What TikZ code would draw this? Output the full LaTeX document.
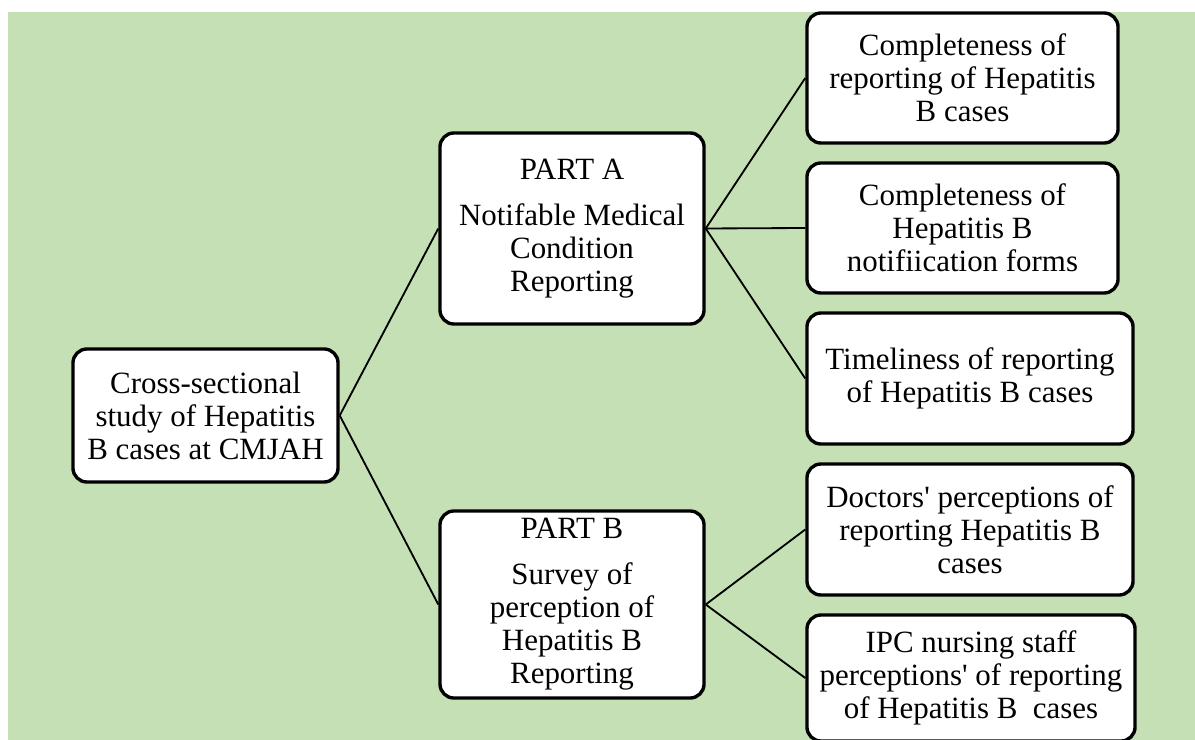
\documentclass[tikz,border=0pt]{standalone}
\usepackage{fontspec}
\setmainfont{Liberation Serif}[Ligatures=TeXOff]
\usepackage{tikz}
\definecolor{bggreen}{RGB}{197,224,180}

\begin{document}
\begin{tikzpicture}[x=0.025cm, y=-0.025cm]

\tikzstyle{box1}=[rectangle, draw, fill=white, line width=2.4pt, rounded corners=0.35cm, align=center, inner sep=2pt, font=\fontsize{22}{23.5}\selectfont]
\tikzstyle{line}=[line width=1.3pt]

\useasboundingbox (0,0) rectangle (1195,740);
\fill[bggreen] (8,12) rectangle (1195,740);

\node (study) [box1, minimum width=6.625cm, minimum height=3.325cm] at (205.5,415.5)
      {Cross-sectional\\ study of Hepatitis\\ B cases at CMJAH};

\node (partA) [box1, minimum width=6.6cm, minimum height=4.775cm] at (572,228.5)
      {PART A\\[9pt] Notifable Medical\\ Condition\\ Reporting};
\node (partB) [box1, minimum width=6.6cm, minimum height=4.675cm] at (572,604.5)
      {PART B\\[9pt] Survey of\\ perception of\\ Hepatitis B\\ Reporting};

\node (compRep) [box1, minimum width=7.775cm, minimum height=3.25cm] at (962.5,78)
      {Completeness of\\ reporting of Hepatitis\\ B cases};
\node (compForm) [box1, minimum width=7.775cm, minimum height=3.25cm] at (962.5,228)
      {Completeness of\\ Hepatitis B\\ notifiication forms};
\node (timely) [box1, minimum width=8.15cm, minimum height=3.275cm] at (970,378.5)
      {Timeliness of reporting\\ of Hepatitis B cases};
\node (doctors) [box1, minimum width=8.15cm, minimum height=3.275cm] at (970,529.5)
      {Doctors' perceptions of\\ reporting Hepatitis B\\ cases};
\node (nurses) [box1, minimum width=8.2cm, minimum height=3.15cm] at (971,678)
      {IPC nursing staff\\ perceptions' of reporting\\ of Hepatitis B\ \ cases};

\draw[line] (study.east) -- (partA.west);
\draw[line] (study.east) -- (partB.west);
\draw[line] (partA.east) -- (compRep.west);
\draw[line] (partA.east) -- (compForm.west);
\draw[line] (partA.east) -- (timely.west);
\draw[line] (partB.east) -- (doctors.west);
\draw[line] (partB.east) -- (nurses.west);
\end{tikzpicture}
\end{document}
